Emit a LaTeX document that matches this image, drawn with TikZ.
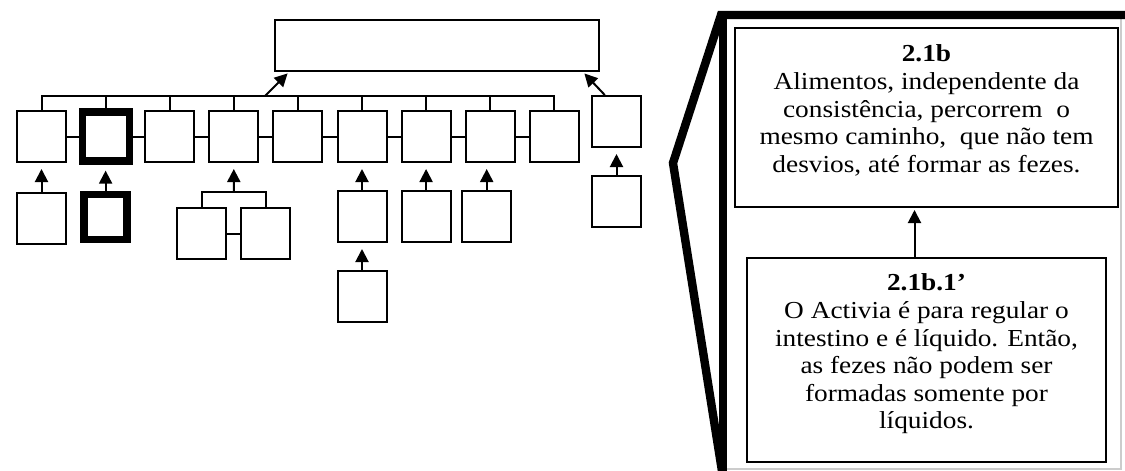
\documentclass[tikz,border=0pt]{standalone}
\usepackage{fontspec}
\setmainfont{Liberation Serif}
\newfontfamily\panelfont[FakeStretch=1.12]{Liberation Serif}
\usetikzlibrary{positioning,calc,arrows.meta}

\begin{document}
\begin{tikzpicture}[
    x=0.5pt, y=-0.5pt,
    node distance=14.5pt,
    box/.style={rectangle, draw, line width=1pt, minimum width=24.5pt, minimum height=25.5pt, inner sep=0pt},
    boldbox/.style={box, line width=3.6pt, minimum width=23.5pt, minimum height=24.5pt},
    note/.style={rectangle, draw, line width=1pt, inner sep=0pt},
    notetext/.style={font=\panelfont\fontsize{12.2pt}{13.8pt}\selectfont, align=center, inner sep=0pt},
    link/.style={line width=1pt},
    up/.style={link, -{Triangle[length=6.5pt,width=6.5pt]}, shorten >=3pt}
]
\useasboundingbox (0,0) rectangle (1125,471);

% Top box
\node[box, minimum width=162pt] (topBox) at (437,45.5) {};

% First row
\foreach \i/\s in {1/box,2/boldbox,3/box,4/box,5/box,6/box,7/box,8/box,9/box}
    \node[\s] (item\i) at ({41.5+64.1*(\i-1)},136.5) {};
\coordinate (bus) at (0,96);
\coordinate (hub) at (265,96);
\draw[link] (item1.north) |- (bus -| item9.north) -- (item9.north);
\foreach \i in {2,...,8}
    \draw[link] (item\i.north) -- (item\i.north |- bus);
\foreach \a/\b in {1/2,2/3,3/4,4/5,5/6,6/7,7/8,8/9}
    \draw[link] (item\a.east) -- (item\b.west);
\draw[up, shorten >=1pt] (hub) -- ($(topBox.south west)+(15,0)$);

% Second row
\node[box, below=of item1] (sub1) {};
\node[boldbox, line width=3.9pt, minimum width=21.5pt, minimum height=22.5pt, below=13pt of item2] (sub2) {};
\node[box, below=22pt of item4, xshift=-16pt] (sub4a) {};
\node[box, below=22pt of item4, xshift=16pt] (sub4b) {};
\node[box, below=13.5pt of item6] (sub6) {};
\node[box, below=13.5pt of sub6] (sub6x) {};
\node[box, below=13.5pt of item7] (sub7) {};
\node[box, below=13.5pt of item8, xshift=-1.75pt] (sub8) {};

\draw[up] (sub1) -- (item1);
\draw[up] (sub2) -- (item2);
\coordinate (fork) at ($(sub4a.north)!0.5!(sub4b.north)+(0,-15)$);
\draw[link] (sub4a.north) |- (fork) -| (sub4b.north);
\draw[link] (sub4a.east) -- (sub4b.west);
\draw[up] (fork) -- (item4);
\draw[up] (sub6) -- (item6);
\draw[up] (sub6x) -- (sub6);
\draw[up] (sub7) -- (item7);
\draw[up] (sub8.north) -- (sub8.north |- item8.south);

% Side column
\node[box] (sideTop) at (616.5,121.5) {};
\node[box, below=13.5pt of sideTop] (sideBottom) {};
\draw[up] (sideBottom) -- (sideTop);
\draw[up, shorten >=1pt] ($(sideTop.north west)!0.27!(sideTop.north east)$) -- ($(topBox.south east)+(-17,0)$);

% Zoom panel
\draw[gray!40, line width=0.6pt] (723,15) -| (1121,469) -- (723,469);
\draw[line width=4.2pt, line join=miter] (1135,15) -- (721,15) -- (673,163) -- (725,490);
\draw[line width=4.2pt] (723,15) -- (723,490);

\node[note, minimum width=191.5pt, minimum height=89.5pt] (claimBox) at (926.5,117.5) {};
\node[notetext, yshift=3.5pt] (claimText) at (claimBox.center)
    {\textbf{2.1b}\\Alimentos, independente da\\consistência, percorrem\ \ o\\mesmo caminho,\ \ que não tem\\desvios, até formar as fezes.};

\node[note, minimum width=179.5pt, minimum height=102pt] (objectionBox) at (926.5,360) {};
\node[notetext, yshift=3pt] (objectionText) at (objectionBox.center)
    {\textbf{2.1b.1’}\\O Activia é para regular\ o\\intestino e é líquido. Então,\\as fezes não podem ser\\formadas somente por\\líquidos.};

\draw[up, shorten >=1pt] ([xshift=-6pt]objectionBox.north) -- ([xshift=-6pt]claimBox.south);

\end{tikzpicture}
\end{document}
